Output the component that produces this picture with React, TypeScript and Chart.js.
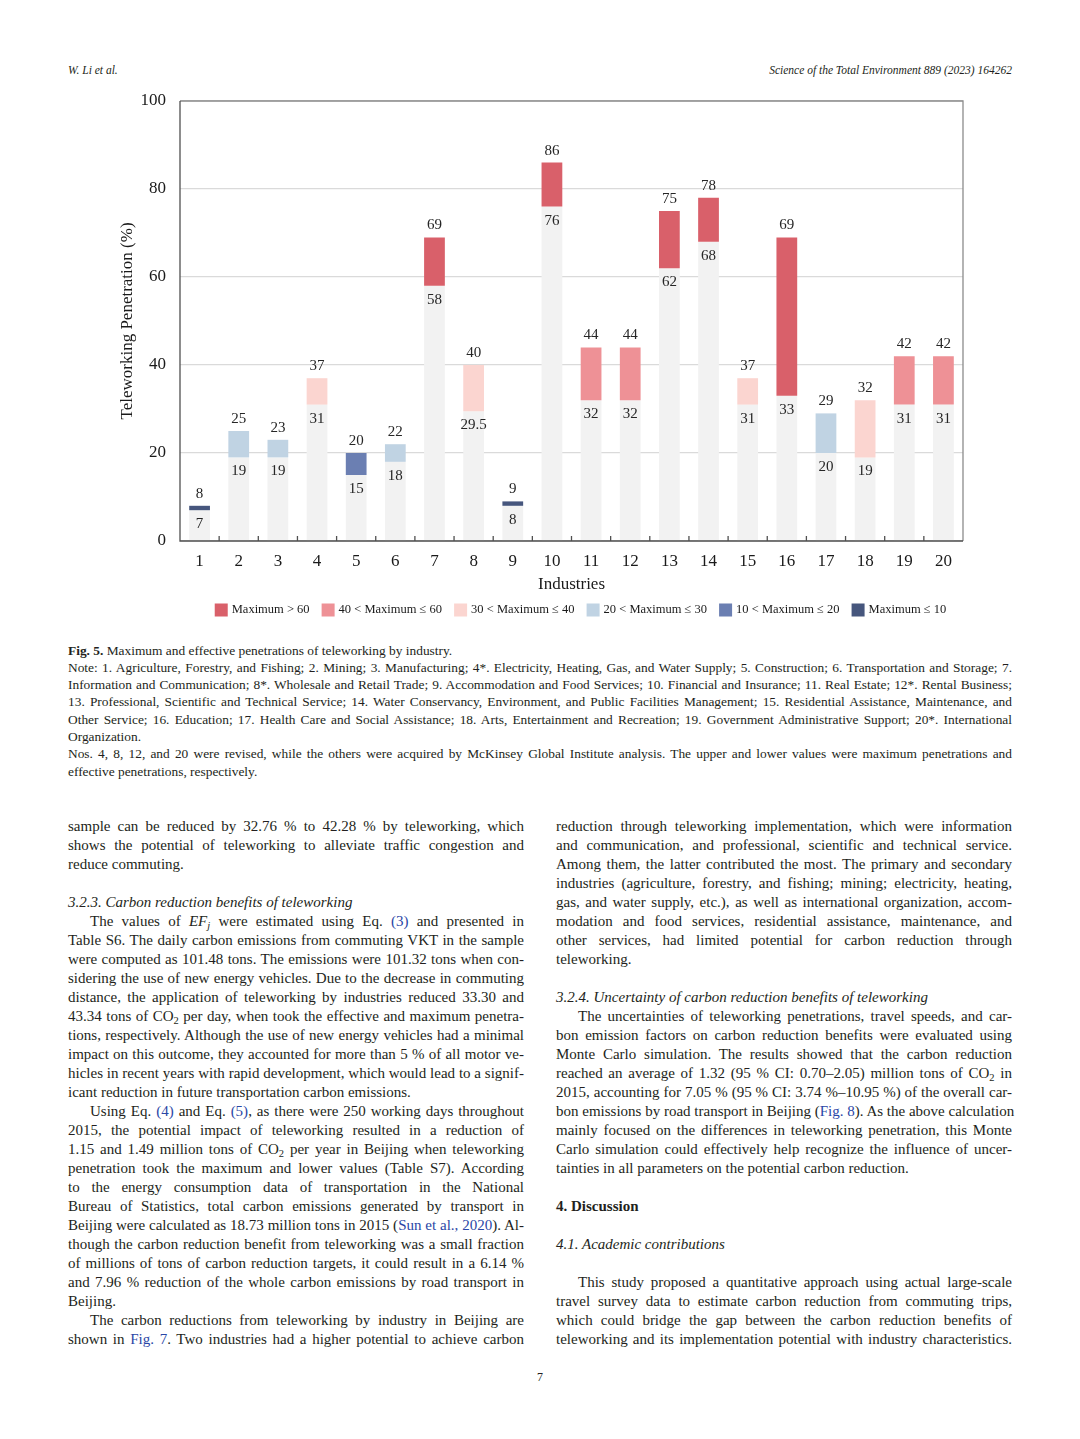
import React, { useEffect, useRef } from 'react';
import { Chart, registerables } from 'chart.js';

Chart.register(...registerables);

// ---------------- data ----------------
const industries = ['1', '2', '3', '4', '5', '6', '7', '8', '9', '10', '11', '12', '13', '14', '15', '16', '17', '18', '19', '20'];
const maximumPenetration = [8, 25, 23, 37, 20, 22, 69, 40, 9, 86, 44, 44, 75, 78, 37, 69, 29, 32, 42, 42];
const effectivePenetration = [7, 19, 19, 31, 15, 18, 58, 29.5, 8, 76, 32, 32, 62, 68, 31, 33, 20, 19, 31, 31];
const yTickValues = [0, 20, 40, 60, 80, 100];
const legendLabels = ['Maximum > 60', '40 < Maximum ≤ 60', '30 < Maximum ≤ 40', '20 < Maximum ≤ 30', '10 < Maximum ≤ 20', 'Maximum ≤ 10'];
const legendLowerBounds = [60, 40, 30, 20, 10, -Infinity];
const legendColors = ['#d9606a', '#ee9196', '#fbd5d0', '#c0d3e3', '#6b7fb2', '#46567d'];
const effectiveColor = '#f2f2f2';

// ---------------- style ----------------
const SERIF = '"Liberation Serif", "Times New Roman", serif';
const TEXT = '#231f20';
const LINK = '#2a46a6';

const bandColor = (v: number) => legendColors[legendLowerBounds.findIndex((b) => v > b)];
const fmt = (v: number) => String(v);

const labelPlugin = {
  id: 'valueLabels',
  afterDatasetsDraw(chart: any) {
    const { ctx, scales } = chart;
    const x = scales.x;
    const y = scales.y;
    ctx.save();
    ctx.font = `15px ${SERIF}`;
    ctx.fillStyle = '#262626';
    ctx.textAlign = 'center';
    ctx.textBaseline = 'middle';
    industries.forEach((_, i) => {
      const px = x.getPixelForValue(i);
      ctx.fillText(fmt(maximumPenetration[i]), px, y.getPixelForValue(maximumPenetration[i]) - 12);
      ctx.fillText(fmt(effectivePenetration[i]), px, y.getPixelForValue(effectivePenetration[i]) + 14);
    });
    ctx.restore();
  },
};

const framePlugin = {
  id: 'frame',
  afterDraw(chart: any) {
    const { ctx, chartArea: a, scales } = chart;
    const x = scales.x;
    ctx.save();
    ctx.lineWidth = 1.3;
    ctx.strokeStyle = '#8c8c8c';
    ctx.beginPath();
    ctx.moveTo(a.left, a.top);
    ctx.lineTo(a.right, a.top);
    ctx.lineTo(a.right, a.bottom);
    ctx.stroke();
    ctx.strokeStyle = '#505050';
    ctx.beginPath();
    ctx.moveTo(a.left, a.top);
    ctx.lineTo(a.left, a.bottom);
    ctx.lineTo(a.right, a.bottom);
    for (let i = 1; i < industries.length; i++) {
      const bx = (x.getPixelForValue(i - 1) + x.getPixelForValue(i)) / 2;
      ctx.moveTo(bx, a.bottom);
      ctx.lineTo(bx, a.bottom - 5);
    }
    ctx.stroke();
    ctx.restore();
  },
};

const legendPlugin = {
  id: 'bandLegend',
  afterDraw(chart: any) {
    const { ctx, chartArea: a } = chart;
    ctx.save();
    ctx.font = `12.5px ${SERIF}`;
    const box = 13;
    const gap = 4;
    const spacing = 12;
    const widths = legendLabels.map((t) => box + gap + ctx.measureText(t).width);
    const total = widths.reduce((s, w) => s + w, 0) + spacing * (legendLabels.length - 1);
    const centerX = (a.left + a.right) / 2 + 9;
    const cy = a.bottom + 69;
    let cx = centerX - total / 2;
    ctx.textBaseline = 'middle';
    ctx.textAlign = 'left';
    legendLabels.forEach((t, i) => {
      ctx.fillStyle = legendColors[i];
      ctx.fillRect(cx, cy - box / 2, box, box);
      ctx.fillStyle = '#1a1a1a';
      ctx.fillText(t, cx + box + gap, cy);
      cx += widths[i] + spacing;
    });
    ctx.restore();
  },
};

function PenetrationChart() {
  const ref = useRef<HTMLCanvasElement | null>(null);
  useEffect(() => {
    if (!ref.current) return;
    const chart = new Chart(ref.current, {
      type: 'bar',
      data: {
        labels: industries,
        datasets: [
          {
            label: 'Effective penetration',
            data: effectivePenetration,
            backgroundColor: effectiveColor,
            grouped: false,
            barPercentage: 0.53,
            categoryPercentage: 1,
            order: 2,
          } as any,
          {
            label: 'Maximum penetration',
            data: industries.map((_, i) => [effectivePenetration[i], maximumPenetration[i]]),
            backgroundColor: maximumPenetration.map(bandColor),
            grouped: false,
            barPercentage: 0.53,
            categoryPercentage: 1,
            order: 1,
          } as any,
        ],
      },
      options: {
        animation: false,
        responsive: false,
        maintainAspectRatio: false,
        layout: { padding: { top: 21, right: 17, bottom: 35, left: 0 } },
        plugins: { legend: { display: false }, tooltip: { enabled: false } },
        scales: {
          x: {
            grid: { display: false, drawTicks: false },
            border: { display: false },
            ticks: { font: { family: SERIF, size: 17 }, color: '#1a1a1a', padding: 10, maxRotation: 0 },
            title: {
              display: true,
              text: 'Industries',
              font: { family: SERIF, size: 17 },
              color: '#1a1a1a',
              padding: { top: 0, bottom: 0 },
            },
            afterFit: (s: any) => {
              s.height = 54;
            },
          },
          y: {
            min: 0,
            max: 100,
            afterBuildTicks: (s: any) => {
              s.ticks = yTickValues.map((v) => ({ value: v }));
            },
            ticks: { font: { family: SERIF, size: 17 }, color: '#1a1a1a', padding: 14 },
            grid: { color: '#dadada', lineWidth: 1.2, drawTicks: false },
            border: { display: false },
            title: {
              display: true,
              text: 'Teleworking Penetration (%)',
              font: { family: SERIF, size: 17 },
              color: '#1a1a1a',
              padding: { top: 17, bottom: 0 },
            },
            afterFit: (s: any) => {
              s.width = 80;
              s.paddingTop = 0;
              s.paddingBottom = 0;
            },
          },
        },
      } as any,
      plugins: [labelPlugin, framePlugin, legendPlugin],
    });
    return () => chart.destroy();
  }, []);
  return <canvas ref={ref} width={880} height={550} style={{ position: 'absolute', left: 100, top: 80, width: 880, height: 550 }} />;
}

// ---------------- text ----------------
const A = ({ children }: any) => <span style={{ color: LINK }}>{children}</span>;
const SUB = ({ children }: any) => <sub style={{ fontSize: '0.7em', verticalAlign: '-0.25em', lineHeight: 0 }}>{children}</sub>;
const CO2 = () => (
  <span>
    CO<SUB>2</SUB>
  </span>
);

type LineSpec = { c?: any; last?: boolean; indent?: boolean; kind?: 'it' | 'b' | 'blank' };

const leftLines: LineSpec[] = [
  { c: 'sample can be reduced by 32.76 % to 42.28 % by teleworking, which' },
  { c: 'shows the potential of teleworking to alleviate traffic congestion and' },
  { c: 'reduce commuting.', last: true },
  { kind: 'blank' },
  { c: '3.2.3. Carbon reduction benefits of teleworking', kind: 'it', last: true },
  {
    c: (
      <>
        The values of <i>EF<SUB>j</SUB></i> were estimated using Eq. <A>(3)</A> and presented in
      </>
    ),
    indent: true,
  },
  { c: 'Table S6. The daily carbon emissions from commuting VKT in the sample' },
  { c: 'were computed as 101.48 tons. The emissions were 101.32 tons when con-' },
  { c: 'sidering the use of new energy vehicles. Due to the decrease in commuting' },
  { c: 'distance, the application of teleworking by industries reduced 33.30 and' },
  {
    c: (
      <>
        43.34 tons of <CO2 /> per day, when took the effective and maximum penetra-
      </>
    ),
  },
  { c: 'tions, respectively. Although the use of new energy vehicles had a minimal' },
  { c: 'impact on this outcome, they accounted for more than 5 % of all motor ve-' },
  { c: 'hicles in recent years with rapid development, which would lead to a signif-' },
  { c: 'icant reduction in future transportation carbon emissions.', last: true },
  {
    c: (
      <>
        Using Eq. <A>(4)</A> and Eq. <A>(5)</A>, as there were 250 working days throughout
      </>
    ),
    indent: true,
  },
  { c: '2015, the potential impact of teleworking resulted in a reduction of' },
  {
    c: (
      <>
        1.15 and 1.49 million tons of <CO2 /> per year in Beijing when teleworking
      </>
    ),
  },
  { c: 'penetration took the maximum and lower values (Table S7). According' },
  { c: 'to the energy consumption data of transportation in the National' },
  { c: 'Bureau of Statistics, total carbon emissions generated by transport in' },
  {
    c: (
      <>
        Beijing were calculated as 18.73 million tons in 2015 (<A>Sun et al., 2020</A>). Al-
      </>
    ),
  },
  { c: 'though the carbon reduction benefit from teleworking was a small fraction' },
  { c: 'of millions of tons of carbon reduction targets, it could result in a 6.14 %' },
  { c: 'and 7.96 % reduction of the whole carbon emissions by road transport in' },
  { c: 'Beijing.', last: true },
  { c: 'The carbon reductions from teleworking by industry in Beijing are', indent: true },
  {
    c: (
      <>
        shown in <A>Fig. 7</A>. Two industries had a higher potential to achieve carbon
      </>
    ),
  },
];

const rightLines: LineSpec[] = [
  { c: 'reduction through teleworking implementation, which were information' },
  { c: 'and communication, and professional, scientific and technical service.' },
  { c: 'Among them, the latter contributed the most. The primary and secondary' },
  { c: 'industries (agriculture, forestry, and fishing; mining; electricity, heating,' },
  { c: 'gas, and water supply, etc.), as well as international organization, accom-' },
  { c: 'modation and food services, residential assistance, maintenance, and' },
  { c: 'other services, had limited potential for carbon reduction through' },
  { c: 'teleworking.', last: true },
  { kind: 'blank' },
  { c: '3.2.4. Uncertainty of carbon reduction benefits of teleworking', kind: 'it', last: true },
  { c: 'The uncertainties of teleworking penetrations, travel speeds, and car-', indent: true },
  { c: 'bon emission factors on carbon reduction benefits were evaluated using' },
  { c: 'Monte Carlo simulation. The results showed that the carbon reduction' },
  {
    c: (
      <>
        reached an average of 1.32 (95 % CI: 0.70–2.05) million tons of <CO2 /> in
      </>
    ),
  },
  { c: '2015, accounting for 7.05 % (95 % CI: 3.74 %–10.95 %) of the overall car-' },
  {
    c: (
      <>
        bon emissions by road transport in Beijing (<A>Fig. 8</A>). As the above calculation
      </>
    ),
  },
  { c: 'mainly focused on the differences in teleworking penetration, this Monte' },
  { c: 'Carlo simulation could effectively help recognize the influence of uncer-' },
  { c: 'tainties in all parameters on the potential carbon reduction.', last: true },
  { kind: 'blank' },
  { c: '4. Discussion', kind: 'b', last: true },
  { kind: 'blank' },
  { c: '4.1. Academic contributions', kind: 'it', last: true },
  { kind: 'blank' },
  { c: 'This study proposed a quantitative approach using actual large-scale', indent: true },
  { c: 'travel survey data to estimate carbon reduction from commuting trips,' },
  { c: 'which could bridge the gap between the carbon reduction benefits of' },
  { c: 'teleworking and its implementation potential with industry characteristics.' },
];

const captionLines: LineSpec[] = [
  {
    c: (
      <>
        <b>Fig. 5.</b> Maximum and effective penetrations of teleworking by industry.
      </>
    ),
    last: true,
  },
  { c: 'Note: 1. Agriculture, Forestry, and Fishing; 2. Mining; 3. Manufacturing; 4*. Electricity, Heating, Gas, and Water Supply; 5. Construction; 6. Transportation and Storage; 7.' },
  { c: 'Information and Communication; 8*. Wholesale and Retail Trade; 9. Accommodation and Food Services; 10. Financial and Insurance; 11. Real Estate; 12*. Rental Business;' },
  { c: '13. Professional, Scientific and Technical Service; 14. Water Conservancy, Environment, and Public Facilities Management; 15. Residential Assistance, Maintenance, and' },
  { c: 'Other Service; 16. Education; 17. Health Care and Social Assistance; 18. Arts, Entertainment and Recreation; 19. Government Administrative Support; 20*. International' },
  { c: 'Organization.', last: true },
  { c: 'Nos. 4, 8, 12, and 20 were revised, while the others were acquired by McKinsey Global Institute analysis. The upper and lower values were maximum penetrations and' },
  { c: 'effective penetrations, respectively.', last: true },
];

function Lines({ lines, lh, top, left, width, size }: { lines: LineSpec[]; lh: number; top: number; left: number; width: number; size: number }) {
  return (
    <div style={{ position: 'absolute', top, left, width, fontFamily: SERIF, fontSize: size, color: TEXT }}>
      {lines.map((l, i) => (
        <div
          key={i}
          style={{
            height: lh,
            lineHeight: `${lh}px`,
            whiteSpace: 'nowrap',
            textAlign: 'justify',
            textAlignLast: l.last ? 'left' : 'justify',
            paddingLeft: l.indent ? 22 : 0,
            fontStyle: l.kind === 'it' ? 'italic' : 'normal',
            fontWeight: l.kind === 'b' ? 'bold' : 'normal',
          } as any}
        >
          {l.kind === 'blank' ? '\u00a0' : l.c}
        </div>
      ))}
    </div>
  );
}

export default function App() {
  return (
    <div style={{ position: 'absolute', left: 0, top: 0, width: 1080, height: 1439, background: '#ffffff', overflow: 'hidden' }}>
      <div style={{ position: 'absolute', left: 68, top: 64, fontFamily: SERIF, fontStyle: 'italic', fontSize: 11.5, color: TEXT }}>W. Li et al.</div>
      <div style={{ position: 'absolute', right: 68, top: 64, fontFamily: SERIF, fontStyle: 'italic', fontSize: 11.5, color: TEXT }}>
        Science of the Total Environment 889 (2023) 164262
      </div>
      <PenetrationChart />
      <Lines lines={captionLines} lh={17.3} top={641.5} left={68} width={944} size={13.4} />
      <Lines lines={leftLines} lh={19} top={816.5} left={68} width={456} size={15} />
      <Lines lines={rightLines} lh={19} top={816.5} left={556} width={456} size={15} />
      <div style={{ position: 'absolute', left: 0, width: 1080, top: 1370, textAlign: 'center', fontFamily: SERIF, fontSize: 12, color: TEXT }}>7</div>
    </div>
  );
}
